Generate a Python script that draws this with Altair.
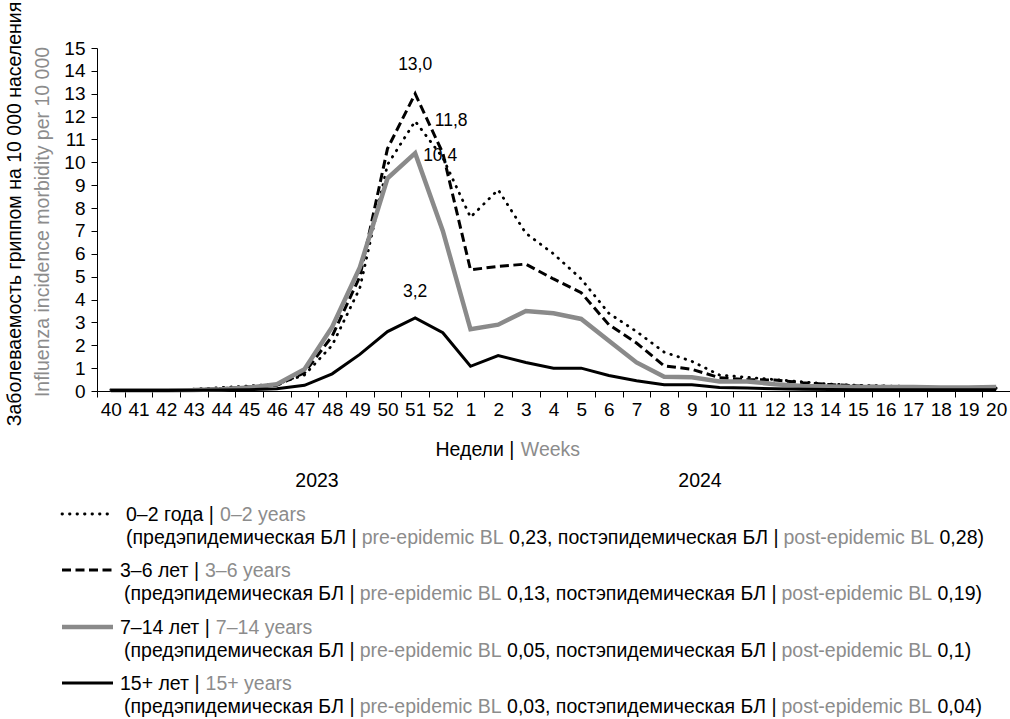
import glob
import struct
import altair as alt
import pandas as pd

# ---------------- data ----------------
weeks = ["40", "41", "42", "43", "44", "45", "46", "47", "48", "49", "50", "51", "52",
         "1", "2", "3", "4", "5", "6", "7", "8", "9", "10", "11", "12", "13", "14",
         "15", "16", "17", "18", "19", "20"]
v_0_2 = [0.05, 0.05, 0.06, 0.08, 0.15, 0.22, 0.3, 0.7, 2.0, 4.5, 9.9, 11.8, 10.2,
         7.6, 8.8, 6.9, 6.0, 4.9, 3.4, 2.6, 1.7, 1.3, 0.7, 0.6, 0.5, 0.4, 0.3,
         0.25, 0.22, 0.2, 0.12, 0.12, 0.12]
v_3_6 = [0.03, 0.03, 0.04, 0.06, 0.1, 0.18, 0.25, 0.8, 2.4, 5.0, 10.6, 13.0, 10.4,
         5.3, 5.45, 5.55, 4.9, 4.3, 2.9, 2.1, 1.1, 0.95, 0.58, 0.5, 0.48, 0.36, 0.28,
         0.22, 0.2, 0.18, 0.12, 0.12, 0.12]
v_7_14 = [0.03, 0.03, 0.03, 0.04, 0.08, 0.15, 0.3, 0.95, 2.8, 5.4, 9.3, 10.4, 7.0,
          2.7, 2.9, 3.5, 3.4, 3.15, 2.2, 1.25, 0.62, 0.6, 0.42, 0.42, 0.3, 0.22, 0.2,
          0.18, 0.18, 0.18, 0.15, 0.15, 0.18]
v_15 = [0.02, 0.02, 0.02, 0.03, 0.04, 0.06, 0.1, 0.25, 0.75, 1.6, 2.6, 3.2, 2.55,
        1.08, 1.55, 1.25, 1.0, 1.0, 0.68, 0.45, 0.27, 0.27, 0.15, 0.13, 0.1, 0.08, 0.07,
        0.06, 0.06, 0.06, 0.06, 0.06, 0.06]
y_ticks = list(range(0, 16))

names_ru = ["0–2 года", "3–6 лет", "7–14 лет", "15+ лет"]
names_en = ["0–2 years", "3–6 years", "7–14 years", "15+ years"]
pre_bl = ["0,23", "0,13", "0,05", "0,03"]
post_bl = ["0,28", "0,19", "0,1", "0,04"]

peak_labels = ["13,0", "11,8", "10,4", "3,2"]
peak_values = [13.0, 11.8, 10.4, 3.2]
peak_week = "51"
years = ["2023", "2024"]

# ---------------- layout / style ----------------
FONT = "Liberation Sans"
BLACK = "#000000"
GREY = "#8c8c8c"
LINE_GREY = "#8a8a8a"
L, T = 97, 48
W, H = 913, 343


def px(x):
    return x - L


def py(y):
    return y - T


def load_width():
    paths = []
    for pat in ["/usr/share/fonts/**/LiberationSans-Regular.ttf",
                "/usr/local/share/fonts/**/LiberationSans-Regular.ttf",
                "/usr/share/**/LiberationSans-Regular.ttf"]:
        paths += glob.glob(pat, recursive=True)
        if paths:
            break
    data = open(paths[0], "rb").read()
    num = struct.unpack(">H", data[4:6])[0]
    tabs = {}
    for i in range(num):
        rec = data[12 + 16 * i: 28 + 16 * i]
        tabs[rec[:4].decode("latin-1")] = struct.unpack(">I", rec[8:12])[0]
    upem = struct.unpack(">H", data[tabs["head"] + 18: tabs["head"] + 20])[0]
    nhm = struct.unpack(">H", data[tabs["hhea"] + 34: tabs["hhea"] + 36])[0]
    hm = tabs["hmtx"]
    adv = [struct.unpack(">H", data[hm + 4 * i: hm + 4 * i + 2])[0] for i in range(nhm)]
    cm = tabs["cmap"]
    nsub = struct.unpack(">H", data[cm + 2: cm + 4])[0]
    sub = None
    for i in range(nsub):
        pid, eid, off = struct.unpack(">HHI", data[cm + 4 + 8 * i: cm + 12 + 8 * i])
        if pid == 3 and eid == 1 and struct.unpack(">H", data[cm + off: cm + off + 2])[0] == 4:
            sub = cm + off
    segx2 = struct.unpack(">H", data[sub + 6: sub + 8])[0]
    seg = segx2 // 2
    ends = struct.unpack(">%dH" % seg, data[sub + 14: sub + 14 + segx2])
    starts = struct.unpack(">%dH" % seg, data[sub + 16 + segx2: sub + 16 + 2 * segx2])
    deltas = struct.unpack(">%dh" % seg, data[sub + 16 + 2 * segx2: sub + 16 + 3 * segx2])
    ro_pos = sub + 16 + 3 * segx2
    ros = struct.unpack(">%dH" % seg, data[ro_pos: ro_pos + segx2])

    def gid(c):
        for i in range(seg):
            if ends[i] >= c:
                if starts[i] > c:
                    return 0
                if ros[i] == 0:
                    return (c + deltas[i]) & 0xFFFF
                addr = ro_pos + 2 * i + ros[i] + 2 * (c - starts[i])
                g = struct.unpack(">H", data[addr: addr + 2])[0]
                return (g + deltas[i]) & 0xFFFF if g else 0
        return 0

    def width(s):
        tot = 0
        for ch in s:
            g = gid(ord(ch))
            tot += adv[g] if g < nhm else adv[-1]
        return tot / upem

    return width


try:
    text_width = load_width()
except Exception:
    def text_width(s):
        return 0.55 * len(s)

FS = 19.5      # legend / titles
AX_FS = 19     # tick labels
ANN_FS = 17.5  # peak labels


def rich(segments, x0, y0, size):
    rows = []
    x = x0
    for txt, col in segments:
        rows.append(dict(x=px(x), y=py(y0), text=txt, color=col))
        x += text_width(txt) * size
    return rows


# ---------------- main data frame ----------------
series = [("0–2", v_0_2), ("3–6", v_3_6), ("7–14", v_7_14), ("15+", v_15)]
rows = []
for key, vals in series:
    for i, (w, v) in enumerate(zip(weeks, vals)):
        rows.append(dict(series=key, week=w, idx=i, value=v))
df = pd.DataFrame(rows)

x_enc = alt.X("week:N", sort=weeks, bandPosition=0.5,
              scale=alt.Scale(type="band", paddingInner=0, paddingOuter=0),
              axis=alt.Axis(title=None, labelAngle=0, labelFontSize=AX_FS, labelFont=FONT,
                            labelColor=BLACK, tickBand="extent", tickSize=6, tickColor=BLACK,
                            tickWidth=1, domainColor=BLACK, domainWidth=1, labelPadding=3,
                            grid=False, labelOverlap=False))
y_enc = alt.Y("value:Q", scale=alt.Scale(domain=[0, 15], nice=False, zero=True),
              axis=alt.Axis(title=None, values=y_ticks, labelFontSize=AX_FS, labelFont=FONT,
                            labelColor=BLACK, tickSize=6, tickColor=BLACK, tickWidth=1,
                            domainColor=BLACK, domainWidth=1, labelPadding=6, grid=False))

styles = {
    "0–2": dict(color=BLACK, strokeWidth=2.8, strokeDash=[0.5, 7], strokeCap="round"),
    "3–6": dict(color=BLACK, strokeWidth=3, strokeDash=[9, 4.5]),
    "7–14": dict(color=LINE_GREY, strokeWidth=4.5),
    "15+": dict(color=BLACK, strokeWidth=3),
}

base = alt.Chart(df)
line_layers = []
for key in ["0–2", "3–6", "7–14", "15+"]:
    line_layers.append(
        base.transform_filter(alt.datum.series == key)
        .mark_line(**styles[key])
        .encode(x=x_enc, y=y_enc, order="idx:Q")
    )

# peak labels
peak_df = pd.DataFrame(dict(week=[peak_week] * 4, value=peak_values, text=peak_labels))
offsets = [(0, -29), (36, 0), (25, 3), (0, -26)]
peak_layers = []
for i, (dx, dy) in enumerate(offsets):
    peak_layers.append(
        alt.Chart(peak_df.iloc[[i]]).mark_text(font=FONT, fontSize=ANN_FS, color=BLACK, dx=dx, dy=dy,
                                               baseline="middle", align="center")
        .encode(x=x_enc, y=y_enc, text="text:N")
    )

data_layer = alt.layer(*line_layers, *peak_layers)

# ---------------- free text (titles, legend) ----------------
text_rows = []
# x-axis title
seg_x = [("Недели | ", BLACK), ("Weeks", GREY)]
tot = sum(text_width(s) for s, _ in seg_x) * FS
text_rows += rich(seg_x, 508 - tot / 2, 450, FS)
# legend
title_y = [515, 571, 628, 684]
title_x = [126, 120, 120, 120]
second_x = [126, 124, 124, 124]
for i in range(4):
    text_rows += rich([(names_ru[i] + " | ", BLACK), (names_en[i], GREY)], title_x[i], title_y[i], FS)
    text_rows += rich([("(предэпидемическая БЛ | ", BLACK), ("pre-epidemic BL ", GREY),
                       (pre_bl[i] + ", постэпидемическая БЛ | ", BLACK),
                       ("post-epidemic BL ", GREY), (post_bl[i] + ")", BLACK)],
                      second_x[i], title_y[i] + 23, FS)
text_df = pd.DataFrame(text_rows)

free_text = alt.Chart(text_df).mark_text(font=FONT, fontSize=FS, align="left", baseline="middle").encode(
    x=alt.X("x:Q", scale=None, axis=None),
    y=alt.Y("y:Q", scale=None, axis=None),
    text="text:N",
    color=alt.Color("color:N", scale=None),
)

year_df = pd.DataFrame(dict(x=[px(317), px(700)], y=[py(481), py(481)], text=years))
year_text = alt.Chart(year_df).mark_text(font=FONT, fontSize=FS, align="center", baseline="middle",
                                         color=BLACK).encode(
    x=alt.X("x:Q", scale=None, axis=None),
    y=alt.Y("y:Q", scale=None, axis=None),
    text="text:N",
)

ytitle_df = pd.DataFrame(dict(x=[px(15), px(43)], y=[py(214), py(222)],
                              text=["Заболеваемость гриппом на 10 000 населения",
                                    "Influenza incidence morbidity per 10 000"],
                              color=[BLACK, GREY]))
ytitle = alt.Chart(ytitle_df).mark_text(font=FONT, fontSize=FS, align="center", baseline="middle",
                                        angle=270).encode(
    x=alt.X("x:Q", scale=None, axis=None),
    y=alt.Y("y:Q", scale=None, axis=None),
    text="text:N",
    color=alt.Color("color:N", scale=None),
)

# legend symbols
sym_layers = []
for i, key in enumerate(["0–2", "3–6", "7–14", "15+"]):
    sdf = pd.DataFrame(dict(x=[px(62)], x2=[px(113)], y=[py(title_y[i] - 1)]))
    sym_layers.append(
        alt.Chart(sdf).mark_rule(**styles[key]).encode(
            x=alt.X("x:Q", scale=None, axis=None),
            x2="x2:Q",
            y=alt.Y("y:Q", scale=None, axis=None),
        )
    )

chart = alt.layer(
    data_layer, free_text, year_text, ytitle, *sym_layers
).resolve_scale(
    x="independent", y="independent"
).properties(
    width=W, height=H,
    autosize=alt.AutoSizeParams(type="none"),
    padding={"left": L, "top": T, "right": 0, "bottom": 719 - T - H},
    background="white",
).configure_view(stroke=None)

chart.save("out.html", embed_options={"renderer": "svg", "actions": False})
